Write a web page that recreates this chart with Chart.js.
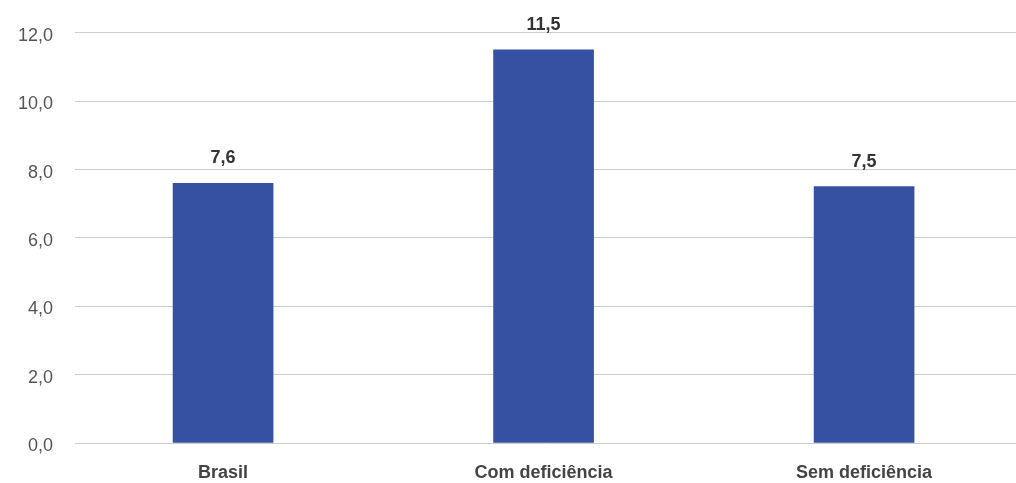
<!DOCTYPE html>
<html>
<head>
<meta charset="utf-8">
<script src="https://cdn.jsdelivr.net/npm/chart.js@4"></script>
<style>
  html, body { margin: 0; padding: 0; background: #fff; overflow: hidden; }
  #wrap { width: 1016px; height: 483px; }
</style>
</head>
<body>
<div id="wrap"><canvas id="myChart" width="1016" height="483"></canvas></div>
<script>
const categories = ["Brasil", "Com deficiência", "Sem deficiência"];
const values = [7.6, 11.5, 7.5];
const yTicks = [0, 2, 4, 6, 8, 10, 12];

const fmt = (v, d) => v.toFixed(d).replace(".", ",");

const valueLabels = {
  id: "valueLabels",
  afterDatasetsDraw(chart) {
    const ctx = chart.ctx;
    const meta = chart.getDatasetMeta(0);
    ctx.save();
    ctx.font = "bold 18px 'Liberation Sans'";
    ctx.fillStyle = "#333";
    ctx.textAlign = "center";
    ctx.textBaseline = "middle";
    meta.data.forEach((bar, i) => {
      ctx.fillText(fmt(values[i], 1), bar.x, bar.y - 25);
    });
    ctx.restore();
  },
};

const ctx = document.getElementById("myChart").getContext("2d");
const myChart = new Chart(ctx, {
  type: "bar",
  data: {
    datasets: [
      {
        data: values.map((v, i) => ({ x: i, y: v })),
        backgroundColor: "#3650a2",
        barThickness: 100,
      },
    ],
  },
  options: {
    responsive: false,
    animation: false,
    layout: { padding: { top: 32, right: 0, left: 0, bottom: 0 } },
    plugins: { legend: { display: false }, tooltip: { enabled: false } },
    scales: {
      x: {
        type: "linear",
        offset: false,
        min: -0.462,
        max: 2.474,
        afterBuildTicks: (scale) => {
          scale.ticks = categories.map((c, i) => ({ value: i }));
        },
        afterFit: (scale) => {
          scale.height = 40;
        },
        grid: { display: false },
        border: { display: false },
        ticks: {
          callback: (v) => categories[v],
          color: "#444",
          font: { family: "Liberation Sans", size: 18, weight: "bold" },
          padding: 11,
          maxRotation: 0,
        },
      },
      y: {
        min: 0,
        max: 12,
        afterBuildTicks: (scale) => {
          scale.ticks = yTicks.map((v) => ({ value: v }));
        },
        afterFit: (scale) => {
          scale.width = 75;
        },
        grid: { color: "#cccccc", lineWidth: 1, drawTicks: false },
        border: { display: false },
        ticks: {
          callback: (v) => fmt(v, 1),
          color: "#555",
          font: { family: "Liberation Sans", size: 18 },
          padding: 22,
          labelOffset: 3,
        },
      },
    },
  },
  plugins: [valueLabels],
});
</script>
</body>
</html>
